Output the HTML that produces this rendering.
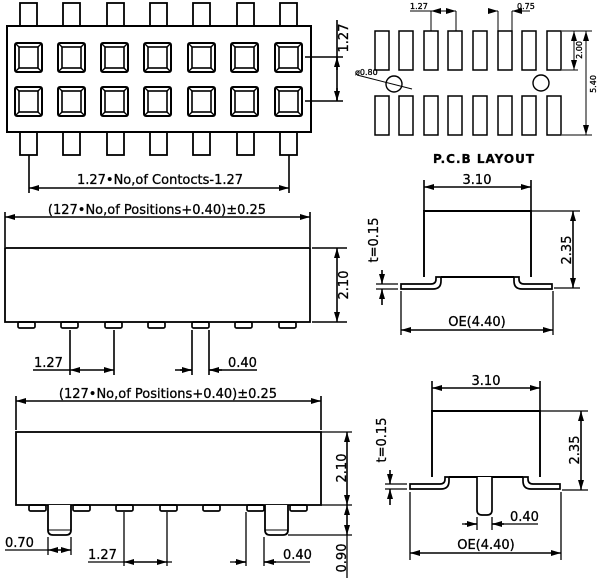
<!DOCTYPE html>
<html><head><meta charset="utf-8"><style>
html,body{margin:0;padding:0;background:#fff;}
svg{display:block;}
text{font-family:"DejaVu Sans","Liberation Sans",sans-serif;fill:#000;stroke:#000;stroke-width:0.3;}
</style></head><body>
<svg width="600" height="582" viewBox="0 0 600 582" xmlns="http://www.w3.org/2000/svg">
<defs>
<marker id="a" viewBox="0 0 10 6" refX="10" refY="3" markerWidth="10" markerHeight="6" orient="auto-start-reverse" markerUnits="userSpaceOnUse"><path d="M0,0 L10,3 L0,6 Z" fill="#000"/></marker>
<g id="sq"><rect x="0" y="0" width="27" height="29" rx="2" fill="none" stroke="#000" stroke-width="2"/><rect x="4" y="4" width="19" height="21" fill="none" stroke="#000" stroke-width="1.6"/><path d="M0,0 L4,4 M27,0 L23,4 M0,29 L4,25 M27,29 L23,25" stroke="#000" stroke-width="1.4"/></g>
<rect id="tp" x="0" y="0" width="17" height="23" fill="none" stroke="#000" stroke-width="1.8"/>
<rect id="pad" x="0" y="0" width="14" height="39" fill="none" stroke="#000" stroke-width="1.5"/>
<rect id="sp" x="0" y="0" width="17" height="6" rx="1.5" fill="none" stroke="#000" stroke-width="1.7"/>
</defs>
<g stroke="#000" fill="none" stroke-width="1.6">

<rect x="7" y="26" width="304" height="106" stroke-width="2"/>
<use href="#tp" x="20" y="3"/><use href="#tp" x="63" y="3"/><use href="#tp" x="107" y="3"/><use href="#tp" x="150" y="3"/><use href="#tp" x="193" y="3"/><use href="#tp" x="237" y="3"/><use href="#tp" x="280" y="3"/>
<use href="#tp" x="20" y="132"/><use href="#tp" x="63" y="132"/><use href="#tp" x="107" y="132"/><use href="#tp" x="150" y="132"/><use href="#tp" x="193" y="132"/><use href="#tp" x="237" y="132"/><use href="#tp" x="280" y="132"/>
<use href="#sq" x="15" y="43"/><use href="#sq" x="58" y="43"/><use href="#sq" x="101" y="43"/><use href="#sq" x="144" y="43"/><use href="#sq" x="188" y="43"/><use href="#sq" x="231" y="43"/><use href="#sq" x="275" y="43"/>
<use href="#sq" x="15" y="87"/><use href="#sq" x="58" y="87"/><use href="#sq" x="101" y="87"/><use href="#sq" x="144" y="87"/><use href="#sq" x="188" y="87"/><use href="#sq" x="231" y="87"/><use href="#sq" x="275" y="87"/>
<path d="M305,57 H343 M305,101 H343 M337,20 V101"/>
<line x1="337" y1="70" x2="337" y2="57" marker-end="url(#a)"/>
<line x1="337" y1="88" x2="337" y2="101" marker-end="url(#a)"/>
<path d="M29,155 V193 M289,155 V193"/>
<line x1="29" y1="188" x2="289" y2="188" marker-start="url(#a)" marker-end="url(#a)"/>

<use href="#pad" x="375" y="31"/><use href="#pad" x="399" y="31"/><use href="#pad" x="424" y="31"/><use href="#pad" x="448" y="31"/><use href="#pad" x="473" y="31"/><use href="#pad" x="498" y="31"/><use href="#pad" x="522" y="31"/><use href="#pad" x="547" y="31"/>
<use href="#pad" x="375" y="96"/><use href="#pad" x="399" y="96"/><use href="#pad" x="424" y="96"/><use href="#pad" x="448" y="96"/><use href="#pad" x="473" y="96"/><use href="#pad" x="498" y="96"/><use href="#pad" x="522" y="96"/><use href="#pad" x="547" y="96"/>
<circle cx="394" cy="84" r="8" stroke-width="1.4"/><circle cx="541" cy="83" r="8" stroke-width="1.4"/>
<path d="M357,75 L412,89" stroke-width="1"/>
<path d="M410,11 H431 M431,11 V31 M456,11 V31 M498,11 V31 M512,11 V31 M512,11 H530" stroke-width="1"/>
<line x1="431" y1="11" x2="456" y2="11" stroke-width="1" marker-start="url(#a)" marker-end="url(#a)"/>
<line x1="490" y1="11" x2="498" y2="11" stroke-width="1" marker-end="url(#a)"/>
<line x1="520" y1="11" x2="512" y2="11" stroke-width="1" marker-end="url(#a)"/>
<path d="M562,31 H592 M562,70 H578 M562,135 H592" stroke-width="1"/>
<line x1="574" y1="31" x2="574" y2="70" stroke-width="1" marker-start="url(#a)" marker-end="url(#a)"/>
<line x1="586" y1="31" x2="586" y2="135" stroke-width="1" marker-start="url(#a)" marker-end="url(#a)"/>

<path d="M5,212 V247 M310,212 V247"/>
<line x1="5" y1="217" x2="310" y2="217" marker-start="url(#a)" marker-end="url(#a)"/>
<rect x="5" y="248" width="305" height="74" stroke-width="1.8"/>
<use href="#sp" x="18" y="322"/><use href="#sp" x="61" y="322"/><use href="#sp" x="105" y="322"/><use href="#sp" x="148" y="322"/><use href="#sp" x="192" y="322"/><use href="#sp" x="235" y="322"/><use href="#sp" x="279" y="322"/>
<path d="M70,330 V375 M114,330 V375 M192,330 V375 M209,330 V375 M33,370 H70 M175,370 H192 M209,370 H257 M312,248 H347 M312,322 H347"/>
<line x1="70" y1="370" x2="114" y2="370" marker-start="url(#a)" marker-end="url(#a)"/>
<line x1="180" y1="370" x2="192" y2="370" marker-end="url(#a)"/>
<line x1="222" y1="370" x2="209" y2="370" marker-end="url(#a)"/>
<line x1="337" y1="248" x2="337" y2="322" marker-start="url(#a)" marker-end="url(#a)"/>

<path d="M16,396 V430 M321,396 V430"/>
<line x1="16" y1="401" x2="321" y2="401" marker-start="url(#a)" marker-end="url(#a)"/>
<rect x="16" y="432" width="305" height="73" stroke-width="1.8"/>
<use href="#sp" x="29" y="505"/><use href="#sp" x="73" y="505"/><use href="#sp" x="116" y="505"/><use href="#sp" x="160" y="505"/><use href="#sp" x="203" y="505"/><use href="#sp" x="247" y="505"/><use href="#sp" x="290" y="505"/>
<path d="M48,505 V530 Q48,535 53,535 H66 Q71,535 71,530 V505" fill="#fff" stroke-width="1.8"/>
<path d="M48,530 H71" stroke-width="1"/>
<path d="M265,505 V530 Q265,535 270,535 H283 Q288,535 288,530 V505" fill="#fff" stroke-width="1.8"/>
<path d="M265,530 H288" stroke-width="1"/>
<path d="M48,537 V555 M71,537 V555 M5,550 H48 M124,512 V566 M167,512 V566 M88,562 H124 M167,562 H172 M246,512 V566 M264,537 V566 M230,562 H246 M264,562 H310 M321,432 H352 M321,505 H352 M288,535 H352 M347,535 V578" stroke-width="1.3"/>
<line x1="48" y1="550" x2="71" y2="550" marker-start="url(#a)" marker-end="url(#a)"/>
<line x1="124" y1="562" x2="167" y2="562" marker-start="url(#a)" marker-end="url(#a)"/>
<line x1="235" y1="562" x2="246" y2="562" marker-end="url(#a)"/>
<line x1="276" y1="562" x2="264" y2="562" marker-end="url(#a)"/>
<line x1="347" y1="432" x2="347" y2="505" marker-start="url(#a)" marker-end="url(#a)"/>
<line x1="347" y1="505" x2="347" y2="535" marker-start="url(#a)" marker-end="url(#a)"/>

<path d="M424,180 V211 M531,180 V211"/>
<line x1="424" y1="187" x2="531" y2="187" marker-start="url(#a)" marker-end="url(#a)"/>
<path d="M424,277 V211 H531 V277 M441,277 H514" stroke-width="1.9"/>
<path d="M401,284 H431 Q436,284 436,279 V277 H441 V281 Q441,289 433,289 H401 Z" fill="#fff" stroke-width="1.7"/>
<path d="M552,284 H524 Q519,284 519,279 V277 H514 V281 Q514,289 522,289 H552 Z" fill="#fff" stroke-width="1.7"/>
<path d="M531,211 H580 M554,288 H580 M401,291 V335 M553,291 V335 M376,284 H398 M376,289 H398" stroke-width="1.3"/>
<line x1="573" y1="211" x2="573" y2="288" marker-start="url(#a)" marker-end="url(#a)"/>
<line x1="401" y1="330" x2="553" y2="330" marker-start="url(#a)" marker-end="url(#a)"/>
<line x1="382" y1="270" x2="382" y2="284" marker-end="url(#a)"/>
<line x1="382" y1="305" x2="382" y2="289" marker-end="url(#a)"/>

<path d="M432,381 V411 M540,381 V411"/>
<line x1="432" y1="388" x2="540" y2="388" marker-start="url(#a)" marker-end="url(#a)"/>
<path d="M432,477 V411 H540 V477 M449,477 H523" stroke-width="1.9"/>
<path d="M477,477 V510 Q477,515 482,515 H487 Q492,515 492,510 V477" fill="#fff" stroke-width="1.7"/>
<path d="M410,484 H440 Q445,484 445,479 V477 H449 V481 Q449,489 441,489 H410 Z" fill="#fff" stroke-width="1.7"/>
<path d="M560,484 H533 Q528,484 528,479 V477 H523 V481 Q523,489 531,489 H560 Z" fill="#fff" stroke-width="1.7"/>
<path d="M540,411 H588 M562,490 H588 M410,492 V560 M561,492 V560 M385,484 H407 M385,489 H407 M477,517 V530 M492,517 V530 M462,524 H477 M492,524 H538" stroke-width="1.3"/>
<line x1="581" y1="411" x2="581" y2="490" marker-start="url(#a)" marker-end="url(#a)"/>
<line x1="410" y1="553" x2="561" y2="553" marker-start="url(#a)" marker-end="url(#a)"/>
<line x1="465" y1="524" x2="477" y2="524" marker-end="url(#a)"/>
<line x1="504" y1="524" x2="492" y2="524" marker-end="url(#a)"/>
<line x1="390" y1="470" x2="390" y2="484" marker-end="url(#a)"/>
<line x1="390" y1="505" x2="390" y2="489" marker-end="url(#a)"/>
</g>

<text x="160" y="184" font-size="13" text-anchor="middle">1.27•No,of Contocts-1.27</text>
<text transform="translate(348,38) rotate(-90)" font-size="13" text-anchor="middle">1.27</text>
<text x="410" y="9" font-size="8" stroke-width="0.1">1.27</text>
<text x="517" y="9" font-size="8" stroke-width="0.1">0.75</text>
<text x="355" y="75" font-size="8" stroke-width="0.1">ø0.80</text>
<text transform="translate(582,50) rotate(-90)" font-size="8" text-anchor="middle" stroke-width="0.1">2.00</text>
<text transform="translate(596,84) rotate(-90)" font-size="8" text-anchor="middle" stroke-width="0.1">5.40</text>
<text x="484" y="163" font-size="12" font-weight="bold" text-anchor="middle" letter-spacing="1">P.C.B  LAYOUT</text>

<text x="157" y="214" font-size="13" text-anchor="middle">(127•No,of Positions+0.40)±0.25</text>
<text transform="translate(348,285) rotate(-90)" font-size="13" text-anchor="middle">2.10</text>
<text x="34" y="367" font-size="13">1.27</text>
<text x="228" y="367" font-size="13">0.40</text>

<text x="168" y="398" font-size="13" text-anchor="middle">(127•No,of Positions+0.40)±0.25</text>
<text transform="translate(346,468) rotate(-90)" font-size="13" text-anchor="middle">2.10</text>
<text transform="translate(346,558) rotate(-90)" font-size="13" text-anchor="middle">0.90</text>
<text x="5" y="547" font-size="13">0.70</text>
<text x="88" y="559" font-size="13">1.27</text>
<text x="283" y="559" font-size="13">0.40</text>

<text x="477" y="184" font-size="13" text-anchor="middle">3.10</text>
<text transform="translate(571,250) rotate(-90)" font-size="13" text-anchor="middle">2.35</text>
<text transform="translate(378,240) rotate(-90)" font-size="13" text-anchor="middle">t=0.15</text>
<text x="477" y="326" font-size="13" text-anchor="middle">OE(4.40)</text>

<text x="486" y="385" font-size="13" text-anchor="middle">3.10</text>
<text transform="translate(579,450) rotate(-90)" font-size="13" text-anchor="middle">2.35</text>
<text transform="translate(386,440) rotate(-90)" font-size="13" text-anchor="middle">t=0.15</text>
<text x="510" y="521" font-size="13">0.40</text>
<text x="486" y="549" font-size="13" text-anchor="middle">OE(4.40)</text>
</svg>
</body></html>
